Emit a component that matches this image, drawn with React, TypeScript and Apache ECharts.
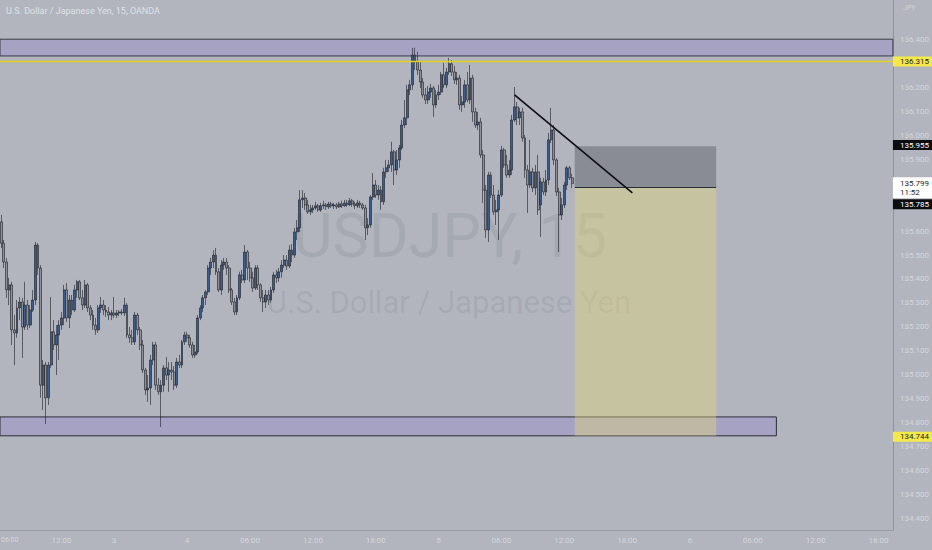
import React, { useEffect, useRef } from "react";
import * as echarts from "echarts";

// ---- time axis (15-minute bars, Friday session then Sunday open onward) ----
const SESSIONS = [
  { start: "2022-07-01T06:15:00Z", bars: 43 },
  { start: "2022-07-03T17:00:00Z", bars: 298 },
];
const TIME_TICKS: [string, string][] = [
  ["07-01 12:00", "12:00"], ["07-03 17:00", "3"], ["07-04 00:00", "4"],
  ["07-04 06:00", "06:00"], ["07-04 12:00", "12:00"], ["07-04 18:00", "18:00"],
  ["07-05 00:00", "5"], ["07-05 06:00", "06:00"], ["07-05 12:00", "12:00"],
  ["07-05 18:00", "18:00"], ["07-06 00:00", "6"], ["07-06 06:00", "06:00"],
  ["07-06 12:00", "12:00"], ["07-06 18:00", "18:00"],
];
const FIRST_TICK_CUT = "06:00";
// axis labels that stay visible (others are covered by the price tags)
const PRICE_TICKS = [134.4, 134.5, 134.6, 134.7, 134.8, 134.9, 135.0, 135.1, 135.2, 135.3,
  135.4, 135.5, 135.6, 135.9, 136.0, 136.1, 136.2, 136.4];

// ---- OHLC ----
const OPEN = [
  135.639,135.550,135.471,135.354,135.375,135.187,135.174,135.279,135.304,135.199,
  135.291,135.207,135.270,135.312,135.542,135.446,134.956,135.040,134.903,135.040,
  135.179,135.124,135.166,135.207,135.237,135.354,135.237,135.312,135.270,135.354,
  135.388,135.321,135.291,135.375,135.279,135.249,135.207,135.187,135.279,135.291,
  135.270,135.262,135.249,135.258,135.249,135.258,135.262,135.258,135.291,135.166,
  135.154,135.137,135.249,135.187,135.124,135.019,134.936,134.944,135.061,135.124,
  134.956,134.928,134.956,135.028,134.998,135.019,135.011,134.956,135.053,135.040,
  135.137,135.166,135.154,135.124,135.082,135.095,135.237,135.279,135.321,135.346,
  135.446,135.471,135.500,135.430,135.354,135.458,135.471,135.446,135.354,135.304,
  135.262,135.321,135.417,135.396,135.513,135.446,135.405,135.362,135.446,135.375,
  135.321,135.304,135.333,135.312,135.354,135.417,135.405,135.430,135.458,135.479,
  135.454,135.521,135.500,135.597,135.614,135.731,135.739,135.710,135.681,135.689,
  135.697,135.706,135.689,135.706,135.710,135.702,135.714,135.706,135.710,135.702,
  135.714,135.706,135.718,135.710,135.727,135.714,135.706,135.718,135.710,135.697,
  135.614,135.626,135.743,135.793,135.751,135.772,135.723,135.848,135.865,135.877,
  135.932,135.856,135.898,135.948,136.044,136.074,136.191,136.212,136.337,136.308,
  136.274,136.224,136.170,136.149,136.182,136.199,136.128,136.170,136.182,136.254,
  136.212,136.266,136.300,136.266,136.233,136.241,136.128,136.140,136.212,136.149,
  136.241,136.099,136.044,136.057,135.919,135.772,135.605,135.835,135.751,135.681,
  135.689,135.751,135.940,135.877,135.835,135.856,136.065,136.120,136.074,136.099,
  135.990,135.856,135.793,135.848,135.781,135.848,135.710,135.806,135.764,135.814,
  135.982,136.023,135.898,135.764,135.668,135.710,135.793,135.865,135.823,
];
const CLOSE = [
  135.550,135.471,135.354,135.375,135.187,135.174,135.279,135.304,135.199,135.291,
  135.207,135.270,135.312,135.542,135.446,134.956,135.040,134.903,135.040,135.179,
  135.124,135.166,135.207,135.237,135.354,135.237,135.312,135.270,135.354,135.388,
  135.321,135.291,135.375,135.279,135.249,135.207,135.187,135.279,135.291,135.270,
  135.262,135.249,135.258,135.249,135.258,135.262,135.258,135.291,135.166,135.154,
  135.137,135.249,135.187,135.124,135.019,134.936,134.944,135.061,135.124,134.956,
  134.928,134.956,135.028,134.998,135.019,135.011,134.956,135.053,135.040,135.137,
  135.166,135.154,135.124,135.082,135.095,135.237,135.279,135.321,135.346,135.446,
  135.471,135.500,135.430,135.354,135.458,135.471,135.446,135.354,135.304,135.262,
  135.321,135.417,135.396,135.513,135.446,135.405,135.362,135.446,135.375,135.321,
  135.304,135.333,135.312,135.354,135.417,135.405,135.430,135.458,135.479,135.454,
  135.521,135.500,135.597,135.614,135.731,135.739,135.710,135.681,135.689,135.697,
  135.706,135.689,135.706,135.710,135.702,135.714,135.706,135.710,135.702,135.714,
  135.706,135.718,135.710,135.727,135.714,135.706,135.718,135.710,135.697,135.614,
  135.626,135.743,135.793,135.751,135.772,135.723,135.848,135.865,135.877,135.932,
  135.856,135.898,135.948,136.044,136.074,136.191,136.212,136.337,136.308,136.274,
  136.224,136.170,136.149,136.182,136.199,136.128,136.170,136.182,136.254,136.212,
  136.266,136.300,136.266,136.233,136.241,136.128,136.140,136.212,136.149,136.241,
  136.099,136.044,136.057,135.919,135.772,135.605,135.835,135.751,135.681,135.689,
  135.751,135.940,135.877,135.835,135.856,136.065,136.120,136.074,136.099,135.990,
  135.856,135.793,135.848,135.781,135.848,135.689,135.806,135.764,135.814,135.982,
  136.023,135.898,135.764,135.668,135.710,135.793,135.865,135.823,135.799,
];
const HIGH = [
  135.668,135.563,135.488,135.405,135.388,135.249,135.312,135.325,135.321,135.388,
  135.312,135.291,135.354,135.555,135.550,135.458,135.061,135.053,135.053,135.325,
  135.228,135.207,135.228,135.262,135.375,135.383,135.333,135.333,135.375,135.396,
  135.396,135.354,135.396,135.383,135.291,135.270,135.237,135.291,135.325,135.312,
  135.291,135.283,135.270,135.325,135.270,135.270,135.274,135.321,135.300,135.199,
  135.187,135.262,135.258,135.199,135.145,135.028,134.998,135.082,135.137,135.137,
  134.986,134.977,135.040,135.074,135.053,135.053,135.036,135.070,135.082,135.145,
  135.179,135.179,135.166,135.137,135.124,135.249,135.291,135.333,135.354,135.458,
  135.488,135.521,135.530,135.446,135.479,135.488,135.488,135.458,135.362,135.321,
  135.333,135.430,135.438,135.542,135.521,135.471,135.430,135.458,135.458,135.383,
  135.354,135.354,135.354,135.367,135.430,135.438,135.446,135.479,135.500,135.500,
  135.542,135.546,135.614,135.647,135.772,135.772,135.760,135.731,135.710,135.710,
  135.723,135.714,135.718,135.727,135.718,135.723,135.723,135.718,135.718,135.723,
  135.727,135.731,135.731,135.739,135.735,135.723,135.731,135.727,135.718,135.710,
  135.655,135.751,135.843,135.814,135.793,135.789,135.865,135.898,135.898,135.974,
  135.940,135.940,135.961,136.065,136.149,136.212,136.233,136.367,136.367,136.350,
  136.308,136.241,136.199,136.207,136.216,136.207,136.191,136.212,136.266,136.304,
  136.283,136.325,136.316,136.291,136.266,136.254,136.166,136.233,136.266,136.295,
  136.254,136.116,136.099,136.074,135.940,135.793,135.848,135.848,135.793,135.731,
  135.772,135.957,135.948,135.919,135.898,136.086,136.203,136.140,136.116,136.116,
  136.002,135.877,135.982,135.865,135.877,135.919,135.823,135.823,135.856,136.011,
  136.116,136.044,135.906,135.781,135.739,135.806,135.873,135.873,135.840,
];
const LOW = [
  135.530,135.446,135.321,135.291,135.124,135.040,135.154,135.228,135.070,135.187,
  135.187,135.195,135.262,135.291,135.417,134.903,134.852,134.793,134.873,135.028,
  135.103,134.998,135.061,135.187,135.207,135.220,135.195,135.249,135.262,135.321,
  135.312,135.270,135.279,135.262,135.228,135.187,135.166,135.174,135.258,135.249,
  135.241,135.228,135.228,135.237,135.237,135.245,135.249,135.245,135.154,135.133,
  135.124,135.124,135.166,135.103,135.006,134.915,134.886,134.873,135.040,134.936,
  134.915,134.781,134.928,134.977,134.928,134.977,134.936,134.944,135.028,135.028,
  135.124,135.137,135.112,135.070,135.070,135.086,135.228,135.262,135.291,135.333,
  135.417,135.446,135.417,135.346,135.333,135.438,135.417,135.341,135.291,135.249,
  135.249,135.312,135.383,135.383,135.396,135.388,135.346,135.354,135.354,135.304,
  135.262,135.279,135.291,135.300,135.341,135.383,135.388,135.405,135.446,135.438,
  135.446,135.471,135.488,135.563,135.597,135.697,135.689,135.672,135.668,135.676,
  135.689,135.681,135.681,135.693,135.689,135.693,135.697,135.693,135.693,135.697,
  135.697,135.702,135.702,135.706,135.702,135.693,135.697,135.697,135.689,135.563,
  135.584,135.614,135.731,135.739,135.731,135.689,135.710,135.823,135.848,135.848,
  135.793,135.835,135.865,135.940,136.032,136.044,136.170,136.191,136.274,136.254,
  136.199,136.158,136.132,136.132,136.158,136.078,136.116,136.149,136.170,136.199,
  136.199,136.254,136.249,136.216,136.212,136.107,136.099,136.116,136.140,136.132,
  136.057,136.032,136.023,135.906,135.718,135.572,135.555,135.739,135.668,135.626,
  135.563,135.743,135.865,135.823,135.823,135.835,136.057,136.044,136.044,135.974,
  135.823,135.676,135.781,135.764,135.751,135.668,135.576,135.751,135.747,135.793,
  135.969,135.877,135.747,135.513,135.647,135.697,135.772,135.814,135.781,
];

// ---- drawings ----
const RESISTANCE_ZONE = [136.333, 136.403];
const SUPPORT_ZONE = [134.744, 134.823];
const SUPPORT_END = "07-06 08:15";
const ALERT_LEVEL = 136.315;
const STOP_LEVEL = 135.955;
const ENTRY_LEVEL = 135.785;
const TARGET_LEVEL = 134.744;
const LAST_PRICE = 135.799;
const COUNTDOWN = "11:52";
const POSITION_START = "07-05 13:00";
const POSITION_END = "07-06 02:30";
const TRENDLINE: [string, number][] = [["07-05 07:15", 136.17], ["07-05 18:30", 135.76]];

const TITLE = "U.S. Dollar / Japanese Yen, 15, OANDA";
const WATERMARK = "USDJPY, 15";
const WATERMARK_SUB = "U.S. Dollar / Japanese Yen";
const CURRENCY = "JPY";

const FONT = "Roboto, 'Noto Sans', sans-serif";

function buildCategories(): string[] {
  const out: string[] = [];
  const p = (n: number) => String(n).padStart(2, "0");
  for (const s of SESSIONS) {
    const t0 = new Date(s.start).getTime();
    for (let k = 0; k < s.bars; k++) {
      const d = new Date(t0 + k * 15 * 60 * 1000);
      out.push(`${p(d.getUTCMonth() + 1)}-${p(d.getUTCDate())} ${p(d.getUTCHours())}:${p(d.getUTCMinutes())}`);
    }
  }
  return out;
}

export default function App() {
  const ref = useRef<HTMLDivElement>(null);
  useEffect(() => {
    if (!ref.current) return;
    const chart = echarts.init(ref.current, undefined, { renderer: "svg" });
    const cats = buildCategories();
    const tickMap = new Map(TIME_TICKS);
    const candles = OPEN.map((o, i) => [o, CLOSE[i], LOW[i], HIGH[i]]);
    const hidden = "rgba(0,0,0,0)";
    const tag = (value: number, fg: string, bg: string, extra: any = {}) => ({
      show: true,
      position: "end",
      distance: 0,
      fontSize: 8,
      fontFamily: FONT,
      padding: [1, 4, 1, 7],
      lineHeight: 8,
      color: fg,
      backgroundColor: bg,
      formatter: () => value.toFixed(3),
      ...extra,
    });
    chart.setOption({
      animation: false,
      backgroundColor: "#b2b5bd",
      grid: { left: 0, right: 39, top: 0, bottom: 20 },
      xAxis: {
        type: "category",
        data: cats,
        boundaryGap: true,
        axisLine: { show: true, lineStyle: { color: "#989ba3", width: 1 } },
        axisTick: { show: false },
        splitLine: { show: false },
        axisLabel: {
          interval: (_i: number, v: string) => tickMap.has(v),
          formatter: (v: string) => tickMap.get(v) || "",
          color: "#d4d7dd",
          fontSize: 8,
          fontFamily: FONT,
          margin: 6,
        },
      },
      yAxis: {
        type: "value",
        position: "right",
        min: 134.35,
        max: 136.567,
        splitLine: { show: false },
        axisLine: { show: true, lineStyle: { color: "#8e929b", width: 1 } },
        axisTick: { show: false, customValues: PRICE_TICKS },
        axisLabel: {
          customValues: PRICE_TICKS,
          formatter: (v: number) => v.toFixed(3),
          color: "#d4d7dd",
          fontSize: 8,
          fontFamily: FONT,
          margin: 7,
        },
      },
      graphic: [
        { type: "text", left: 6, top: 6, silent: true, style: { text: TITLE, fill: "#dfe1e6", fontSize: 9, fontFamily: FONT } },
        { type: "text", left: 903, top: 4, silent: true, style: { text: CURRENCY, fill: "#d0d3d9", fontSize: 7, fontFamily: FONT } },
        { type: "text", x: 1, y: 540, silent: true, style: { text: FIRST_TICK_CUT, fill: "#d4d7dd", fontSize: 7, fontFamily: FONT, textAlign: "left", textVerticalAlign: "middle" } },
        { type: "text", x: 450, y: 236, silent: true, z: -10, style: { text: WATERMARK, fill: "rgba(60,64,76,0.1)", fontSize: 61, fontFamily: FONT, textAlign: "center", textVerticalAlign: "middle" } },
        { type: "text", x: 449, y: 302, silent: true, z: -10, style: { text: WATERMARK_SUB, fill: "rgba(60,64,76,0.1)", fontSize: 31, fontFamily: FONT, textAlign: "center", textVerticalAlign: "middle" } },
      ],
      series: [
        {
          type: "candlestick",
          data: candles,
          barWidth: 2.4,
          itemStyle: {
            color: "#3a5d8f",
            color0: "#8c8f95",
            borderColor: "#1c1f26",
            borderColor0: "#1c1f26",
            borderWidth: 0.6,
          },
          markArea: {
            silent: true,
            label: { show: false },
            data: [
              [
                { yAxis: RESISTANCE_ZONE[0], itemStyle: { color: "#a6a2c4", borderColor: "#3a3c46", borderWidth: 1 } },
                { yAxis: RESISTANCE_ZONE[1] },
              ],
              [
                { yAxis: SUPPORT_ZONE[0], itemStyle: { color: "#a6a2c4", borderColor: "#2c2e36", borderWidth: 1 } },
                { xAxis: SUPPORT_END, yAxis: SUPPORT_ZONE[1] },
              ],
              [
                { xAxis: POSITION_START, yAxis: ENTRY_LEVEL, itemStyle: { color: "rgba(70,73,82,0.38)" } },
                { xAxis: POSITION_END, yAxis: STOP_LEVEL },
              ],
              [
                { xAxis: POSITION_START, yAxis: TARGET_LEVEL, itemStyle: { color: "rgba(226,214,120,0.42)" } },
                { xAxis: POSITION_END, yAxis: ENTRY_LEVEL },
              ],
            ],
          },
          markLine: {
            silent: true,
            symbol: ["none", "none"],
            data: [
              { yAxis: ALERT_LEVEL, lineStyle: { color: "#e2d31c", width: 1.4, type: "solid", opacity: 1 },
                label: tag(ALERT_LEVEL, "#1c1f26", "#f3e94b") },
              { yAxis: TARGET_LEVEL, lineStyle: { color: hidden, width: 1, type: "solid" },
                label: tag(TARGET_LEVEL, "#1c1f26", "#f3e94b") },
              { yAxis: STOP_LEVEL, lineStyle: { color: hidden, width: 1, type: "solid" },
                label: tag(STOP_LEVEL, "#ffffff", "#0c0d10") },
              { yAxis: ENTRY_LEVEL, lineStyle: { color: hidden, width: 1, type: "solid" },
                label: tag(ENTRY_LEVEL, "#ffffff", "#0c0d10", { offset: [0, 16] }) },
              { yAxis: LAST_PRICE, lineStyle: { color: hidden, width: 1, type: "solid" },
                label: tag(LAST_PRICE, "#1c1f26", "#ffffff", {
                  offset: [0, 4.5],
                  formatter: () => "{a|" + LAST_PRICE.toFixed(3) + "}\n{a|" + COUNTDOWN + "}",
                  rich: { a: { color: "#1c1f26", fontSize: 8, lineHeight: 9.5, fontFamily: FONT } },
                }) },
              [
                { coord: [POSITION_START, ENTRY_LEVEL], lineStyle: { color: "#2c2e36", width: 1, type: "solid" }, label: { show: false } },
                { coord: [POSITION_END, ENTRY_LEVEL] },
              ],
              [
                { coord: TRENDLINE[0], lineStyle: { color: "#0d0e12", width: 1.6, type: "solid" }, label: { show: false } },
                { coord: TRENDLINE[1] },
              ],
            ],
          },
        },
      ],
    });
    return () => chart.dispose();
  }, []);
  return <div ref={ref} style={{ position: "fixed", left: 0, top: 0, width: 932, height: 550 }} />;
}
